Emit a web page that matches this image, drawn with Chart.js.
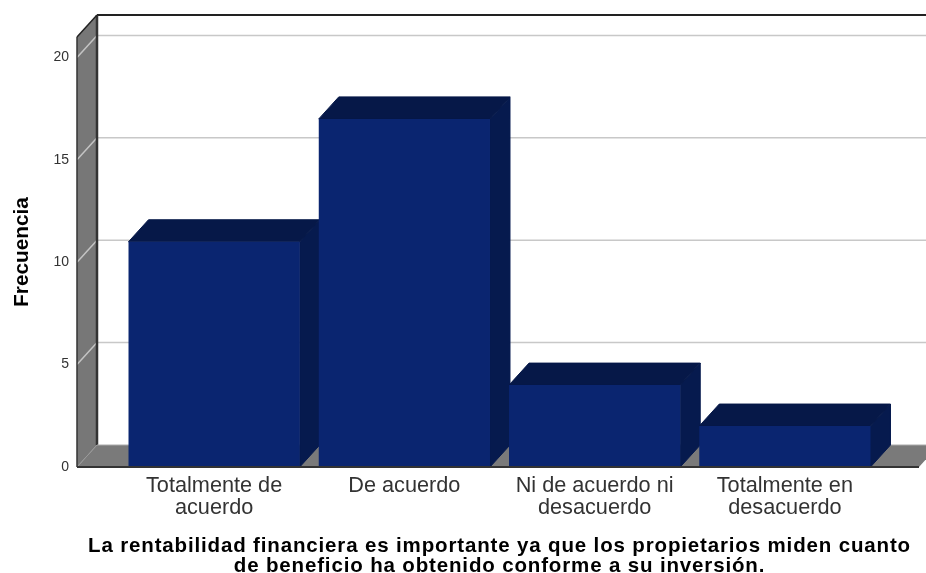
<!DOCTYPE html>
<html>
<head>
<meta charset="utf-8">
<style>html,body{margin:0;padding:0;background:#fff;overflow:hidden}canvas{display:block}</style>
<script src="https://cdn.jsdelivr.net/npm/chart.js@4"></script>
</head>
<body>
<canvas id="c" width="926" height="573"></canvas>
<script>
const categories = [["Totalmente de","acuerdo"],"De acuerdo",["Ni de acuerdo ni","desacuerdo"],["Totalmente en","desacuerdo"]];
const frequencies = [11, 17, 4, 2];
const yTicks = [0, 5, 10, 15, 20];
const yTitle = "Frecuencia";
const xTitle = ["La rentabilidad financiera es importante ya que los propietarios miden cuanto","de beneficio ha obtenido conforme a su inversión."];

const DX = 20, DY = 22, PAD_L = 42, PAD_R = 39;
function poly(ctx, pts, fill, seam){
  ctx.beginPath();
  pts.forEach((p,i)=> i ? ctx.lineTo(p[0],p[1]) : ctx.moveTo(p[0],p[1]));
  ctx.closePath(); ctx.fillStyle = fill; ctx.fill();
  if(seam){ ctx.strokeStyle = fill; ctx.lineWidth = 1; ctx.stroke(); }
}
function line(ctx, x1,y1,x2,y2, color, w){
  ctx.beginPath(); ctx.moveTo(x1,y1); ctx.lineTo(x2,y2);
  ctx.strokeStyle = color; ctx.lineWidth = w; ctx.stroke();
}
function noPad(s){ s.paddingTop = 0; s.paddingBottom = 0; s.paddingLeft = 0; s.paddingRight = 0; }
const frame3d = {
  id:'frame3d',
  beforeDatasetsDraw(chart){
    const {ctx, chartArea:a, scales:{y}} = chart;
    const L = a.left - PAD_L, R = a.right + PAD_R, B = y.getPixelForValue(0), T = y.getPixelForValue(y.max);
    ctx.save();
    poly(ctx, [[L,T],[L+DX,T-DY],[L+DX,B-DY],[L,B]], '#777777');
    poly(ctx, [[L,B],[L+DX,B-DY],[R+DX,B-DY],[R,B]], '#7a7a7a');
    yTicks.slice(1).forEach(v=>{
      const p = y.getPixelForValue(v);
      line(ctx, L, p, L+DX, p-DY, '#c4c4c4', 1.5);
      line(ctx, L+DX, p-DY, 926, p-DY, '#c8c8c8', 1.5);
    });
    line(ctx, L, B, L+DX, B-DY, '#999999', 1);
    line(ctx, L+DX, T-DY, 926, T-DY, '#222222', 2);
    line(ctx, L+DX, T-DY, L+DX, B-DY, '#333333', 2.5);
    line(ctx, L, T, L+DX, T-DY, '#222222', 1.5);
    line(ctx, L, T, L, B, '#333333', 1.5);
    line(ctx, L+DX, B-DY, 926, B-DY, '#aaaaaa', 1);
    chart.getDatasetMeta(0).data.forEach(b=>{
      const l = b.x - b.width/2, r = b.x + b.width/2;
      poly(ctx, [[r,b.y],[r+DX,b.y-DY],[r+DX,b.base-DY],[r,b.base]], '#061a4e', true);
      poly(ctx, [[l,b.y],[l+DX,b.y-DY],[r+DX,b.y-DY],[r,b.y]], '#061848', true);
    });
    ctx.restore();
  },
  afterDatasetsDraw(chart){
    const {ctx, chartArea:a, scales:{y}} = chart;
    const B = y.getPixelForValue(0);
    ctx.save();
    line(ctx, a.left-PAD_L, B, a.right+PAD_R, B, '#333333', 2);
    ctx.font = 'bold 20.5px "Liberation Sans"';
    ctx.letterSpacing = '0.85px';
    ctx.fillStyle = '#000000';
    ctx.textAlign = 'center';
    ctx.textBaseline = 'middle';
    const cx = (a.left + a.right) / 2;
    xTitle.forEach((t,i)=> ctx.fillText(t, cx, B + 79 + i*20));
    ctx.restore();
  }
};

new Chart(document.getElementById('c'), {
  type:'bar',
  data:{ labels:categories, datasets:[{ data:frequencies, backgroundColor:'#0a2570', borderWidth:0, barPercentage:0.9, categoryPercentage:1 }] },
  plugins:[frame3d],
  options:{
    responsive:false, animation:false,
    layout:{ padding:{ top:37, right:46, bottom:0, left:0 } },
    plugins:{ legend:{display:false}, tooltip:{enabled:false} },
    scales:{
      x:{
        afterFit(s){ s.height = 106; noPad(s); },
        grid:{ display:false, drawTicks:false }, border:{ display:false },
        ticks:{ autoSkip:false, maxRotation:0, minRotation:0, padding:8, color:'#333333',
                font:{ family:'"Liberation Sans"', size:21.7, lineHeight:1.0 } }
      },
      y:{
        min:0, max:21,
        afterFit(s){ s.width = 119; noPad(s); },
        grid:{ display:false, drawTicks:false }, border:{ display:false },
        ticks:{ stepSize:5, includeBounds:false, padding:50, color:'#333333',
                font:{ family:'"Liberation Sans"', size:14 } },
        title:{ display:true, text:yTitle, color:'#000000', padding:{top:10,bottom:0},
                font:{ family:'"Liberation Sans"', size:20.8, weight:'bold' } }
      }
    }
  }
});
</script>
</body>
</html>
